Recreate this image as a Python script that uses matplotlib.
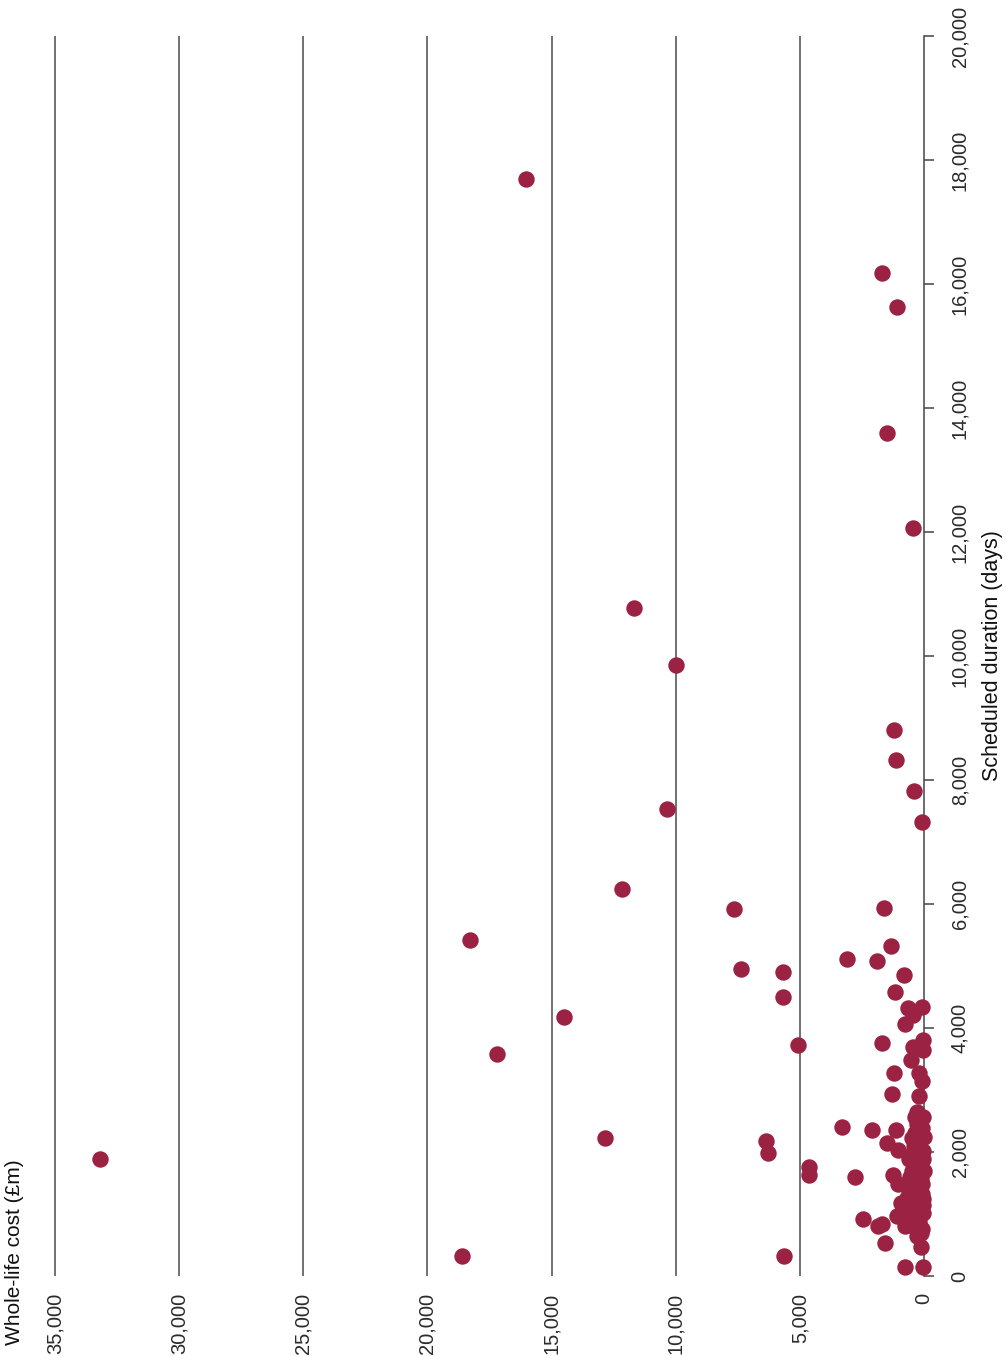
import matplotlib
matplotlib.use("Agg")
import matplotlib.pyplot as plt
from matplotlib.ticker import FuncFormatter

plt.rcParams["font.family"] = ["Liberation Sans", "DejaVu Sans"]

# whole-life cost (£m) and scheduled duration (days) per project
whole_life_cost = [
    33200, 18610, 18290, 17200, 16040, 14500, 12850, 12170, 11680, 10350,
    9990, 7650, 7370, 6370, 6290, 5680, 5680, 5640, 5080, 4630,
    4630, 3320, 3100, 2790, 2440, 2080, 1880, 1840, 1700, 1690,
    1600, 1570, 1500, 1320, 1300, 1260, 1210, 1170, 1140, 1130,
    1100, 1090, 1030, 1030, 930, 900, 820, 770, 770, 760,
    660, 530, 460, 440, 430, 400, 300, 290, 190, 190,
    130, 90, 80, 70, 60, 50, 50, 50, 1690, 1490,
    1210,
]
duration_days = [
    1890, 320, 5420, 3580, 17700, 4170, 2220, 6240, 10770, 7530,
    9860, 5920, 4950, 2180, 1980, 4900, 4500, 320, 3730, 1760,
    1630, 2400, 5110, 1600, 920, 2360, 5080, 810, 840, 3760,
    5940, 540, 2150, 5320, 2930, 1630, 3280, 4580, 2350, 8330,
    960, 15630, 2040, 1490, 1170, 1160, 4860, 4070, 150, 800,
    4320, 3480, 4210, 12060, 3700, 7830, 2650, 1080, 2900, 3280,
    470, 3140, 7320, 4340, 3810, 3640, 2560, 150, 16180, 13590,
    8800,
]

# dense group of small, short projects near the origin
cluster_cost = [
    700, 650, 600, 560, 520, 480, 450, 420, 400, 380,
    360, 340, 320, 300, 280, 260, 240, 220, 200, 180,
    160, 140, 120, 100, 90, 80, 70, 60, 50, 40,
    640, 580, 500, 470, 410, 350, 310, 270, 230, 170,
    150, 110, 70, 30, 20, 250, 330, 430, 540, 610,
    120, 60, 20, 180, 380,
]
cluster_duration = [
    1260, 1420, 1880, 1100, 1330, 1700, 940, 2100, 1520, 1210,
    2300, 1010, 1780, 1390, 2450, 1150, 1960, 870, 1600, 2200,
    1300, 1840, 1050, 2380, 1480, 760, 1690, 2010, 1240, 1880,
    1000, 1600, 2220, 1400, 1130, 1750, 2060, 640, 1450, 980,
    2480, 1570, 1320, 1020, 2250, 1830, 1260, 800, 1560, 1940,
    700, 1150, 1700, 2300, 2560,
]

cost_ticks = [0, 5000, 10000, 15000, 20000, 25000, 30000, 35000]
duration_ticks = list(range(0, 20001, 2000))

marker_color = "#9B2242"
text_color = "#2b2b2b"

fig = plt.figure(figsize=(10.06, 13.56), dpi=100)
ax = fig.add_axes([42.6 / 1006, 1 - 1276 / 1356, (924 - 42.6) / 1006, (1276 - 36) / 1356])

ax.scatter(whole_life_cost + cluster_cost, duration_days + cluster_duration,
           s=140, color=marker_color, linewidths=0, zorder=3, clip_on=False)

ax.set_xlim(35500, 0)
ax.set_ylim(0, 20000)

# vertical gridlines at each cost step
for c in cost_ticks[1:]:
    ax.axvline(c, color="#4a4a4a", linewidth=1.1, zorder=1)

for side in ["top", "bottom", "left"]:
    ax.spines[side].set_visible(False)
ax.spines["right"].set_color("#444444")
ax.spines["right"].set_linewidth(1.1)

thousands = FuncFormatter(lambda v, pos: f"{int(v):,}")

ax.set_xticks(cost_ticks)
ax.xaxis.set_major_formatter(thousands)
ax.tick_params(axis="x", length=0, pad=12, labelrotation=90,
               labelsize=14.5, labelcolor=text_color)

ax.yaxis.tick_right()
ax.yaxis.set_label_position("right")
ax.set_yticks(duration_ticks)
ax.yaxis.set_major_formatter(thousands)
ax.tick_params(axis="y", direction="out", length=7, width=1.1, color="#444444",
               pad=12, labelrotation=90, labelsize=14.5, labelcolor=text_color)
for lbl in ax.get_yticklabels():
    lbl.set_verticalalignment("center")

ax.set_ylabel("Scheduled duration (days)", fontsize=15.5, color="#111111",
              rotation=90, labelpad=9)

fig.text(15 / 1006, 11 / 1356, "Whole-life cost (£m)", rotation=90,
         ha="center", va="bottom", fontsize=15, color="#111111")

fig.savefig("out.png", dpi=100, facecolor="white")
